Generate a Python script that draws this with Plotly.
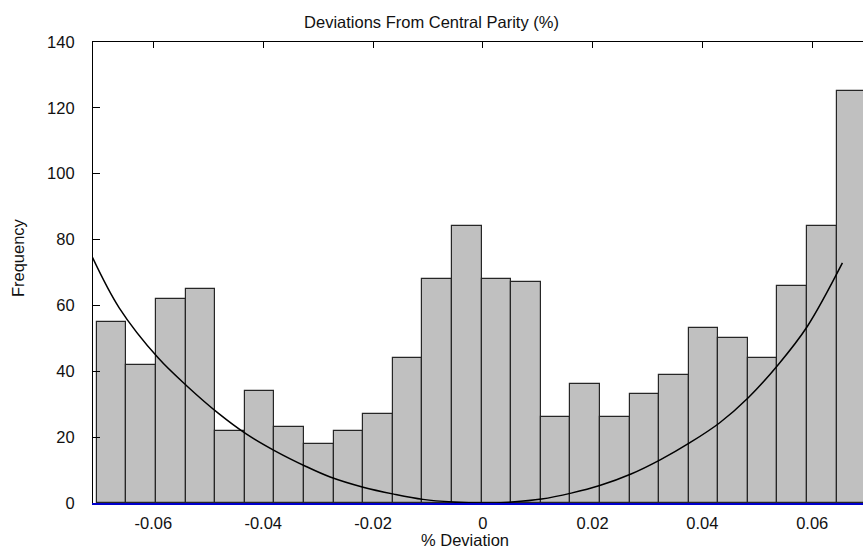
import numpy as np
import plotly.graph_objects as go

# ---- data ----
bin_start = -0.0703
bin_width = 0.00539
frequency = [55, 42, 62, 65, 22, 34, 23, 18, 22, 27, 44, 68, 84,
             68, 67, 26, 36, 26, 33, 39, 53, 50, 44, 66, 84, 125]

curve_x = [-0.0711, -0.0662, -0.0591, -0.0538, -0.0482, -0.0431, -0.0377,
           -0.0322, -0.0278, -0.0218, -0.0162, -0.0109, -0.0054, 0.0,
           0.0053, 0.0107, 0.0161, 0.0213, 0.0270, 0.0323, 0.0378, 0.0431,
           0.0483, 0.0538, 0.0591, 0.0655]
curve_y = [74.6, 59.2, 44.0, 35.4, 27.3, 21.0, 15.7,
           11.1, 7.9, 4.8, 2.7, 1.1, 0.3, 0.0,
           0.3, 1.2, 3.0, 5.3, 8.8, 13.1, 18.4, 24.3,
           31.9, 42.0, 53.6, 72.9]

x_tick_vals = [-0.06, -0.04, -0.02, 0, 0.02, 0.04, 0.06]
x_tick_text = ["-0.06", "-0.04", "-0.02", "0", "0.02", "0.04", "0.06"]
y_tick_vals = [0, 20, 40, 60, 80, 100, 120, 140]

title_text = "Deviations From Central Parity (%)"
x_title = "% Deviation"
y_title = "Frequency"

# ---- figure ----
centers = bin_start + bin_width * (np.arange(len(frequency)) + 0.5)

FONT = "Liberation Sans, Arial, sans-serif"
fs = 16.5
W, H = 863, 548

fig = go.Figure()
fig.add_trace(go.Bar(
    x=centers, y=frequency, width=bin_width,
    marker=dict(color="#c0c0c0", line=dict(color="#262626", width=1.2)),
    showlegend=False, hoverinfo="x+y"))
fig.add_trace(go.Scatter(
    x=curve_x, y=curve_y, mode="lines",
    line=dict(color="black", width=1.5, shape="spline", smoothing=1.0),
    showlegend=False))
fig.add_trace(go.Scatter(x=[0], y=[0], xaxis="x2", mode="markers",
                         marker=dict(opacity=0), showlegend=False,
                         hoverinfo="skip"))

xr = [-0.0710, 0.06925]
fig.update_layout(
    width=W, height=H,
    margin=dict(l=93, r=0, t=42, b=45),
    paper_bgcolor="white", plot_bgcolor="white",
    font=dict(family=FONT, size=fs, color="#111111"),
    bargap=0,
    title=dict(text=title_text, x=431.5 / W, xref="container", xanchor="center",
               y=1 - 22 / H, yref="container", yanchor="middle",
               font=dict(family=FONT, size=fs, color="#111111")),
    xaxis=dict(range=xr, showgrid=False, zeroline=False,
               showline=True, linecolor="#0000cc", linewidth=1.5,
               ticks="", tickvals=x_tick_vals, ticktext=x_tick_text,
               ticklabelstandoff=4,
               tickfont=dict(family=FONT, size=fs, color="#111111")),
    xaxis2=dict(range=xr, overlaying="x", side="top", matches="x",
                showgrid=False, zeroline=False, showline=True,
                linecolor="black", linewidth=1.2, ticks="inside",
                ticklen=6, tickwidth=1.2, tickcolor="black",
                tickvals=x_tick_vals, showticklabels=False),
    yaxis=dict(range=[0, 140], showgrid=False, zeroline=False,
               showline=True, linecolor="black", linewidth=1.2,
               ticks="inside", ticklen=7, tickwidth=1.2, tickcolor="black",
               tickvals=y_tick_vals, ticklabelstandoff=14,
               tickfont=dict(family=FONT, size=fs, color="#111111")),
    annotations=[
        dict(text=x_title, xref="paper", yref="paper",
             x=(465 - 93) / 770, y=-(540 - 503) / 461,
             xanchor="center", yanchor="middle", showarrow=False,
             font=dict(family=FONT, size=fs, color="#111111")),
        dict(text=y_title, xref="paper", yref="paper",
             x=(17.5 - 93) / 770, y=(503 - 257.6) / 461, textangle=-90,
             xanchor="center", yanchor="middle", showarrow=False,
             font=dict(family=FONT, size=fs, color="#111111")),
    ],
)

fig.write_html(
    "out.html",
    config={"displayModeBar": False},
    post_script="document.body.style.margin='0';"
                "document.body.style.overflow='hidden';",
)
